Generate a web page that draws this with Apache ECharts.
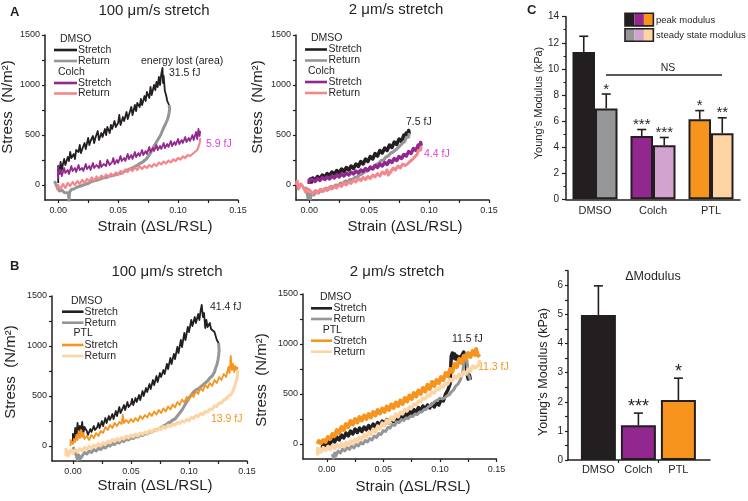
<!DOCTYPE html>
<html><head><meta charset="utf-8">
<script src="https://cdn.jsdelivr.net/npm/echarts@6/dist/echarts.min.js"></script>
<style>html,body{margin:0;padding:0;background:#fff}#c{width:748px;height:501px}</style>
</head><body><div id="c"></div>
<script>
const FONT = '"Liberation Sans", Arial, Helvetica, sans-serif';
const INK = '#231f20';

// ---------- axis tick/label values ----------
const strainLabels = [0, 0.05, 0.10, 0.15];
const strainTicks = [0, 0.025, 0.05, 0.075, 0.10, 0.125, 0.15];
const stressLabels = [0, 500, 1000, 1500];
const stressTicks = [0, 250, 500, 750, 1000, 1250, 1500];

// ---------- Panel A, 100 um/s ----------
const aL_dmsoStretch = [[0,20],[0,190],[0.001,120],[0.002,230],[0.003,150],[0.004,210],[0.005,260],[0.006,200],[0.008,280],[0.009,240],[0.010,330],[0.011,270],[0.013,310],[0.014,260],[0.015,350],[0.017,330],[0.018,400],[0.019,320],[0.021,390],[0.022,420],[0.023,360],[0.025,470],[0.026,400],[0.027,440],[0.029,490],[0.030,420],[0.031,470],[0.033,540],[0.034,450],[0.036,520],[0.037,480],[0.039,560],[0.040,500],[0.041,580],[0.043,520],[0.044,600],[0.045,560],[0.047,640],[0.048,580],[0.050,620],[0.051,700],[0.052,600],[0.054,680],[0.055,640],[0.057,730],[0.058,660],[0.059,700],[0.061,780],[0.062,700],[0.064,800],[0.065,740],[0.066,820],[0.068,780],[0.069,860],[0.070,800],[0.072,890],[0.073,840],[0.074,930],[0.076,870],[0.077,980],[0.078,900],[0.080,1000],[0.081,950],[0.082,1030],[0.083,980],[0.084,1080],[0.085,1000],[0.086,1110],[0.087,1170],[0.0875,1020],[0.088,1090],[0.089,940],[0.090,900],[0.091,840],[0.0925,800]];
const aL_dmsoReturn = [[0.0925,800],[0.093,760],[0.0925,720],[0.092,690],[0.091,650],[0.0895,610],[0.0885,590],[0.0875,560],[0.0865,540],[0.0855,500],[0.0845,490],[0.0835,460],[0.0825,455],[0.0815,420],[0.0805,400],[0.0795,380],[0.0785,350],[0.0775,340],[0.0765,310],[0.075,290],[0.0735,260],[0.072,250],[0.070,225],[0.068,215],[0.066,195],[0.064,185],[0.062,170],[0.060,160],[0.058,150],[0.055,135],[0.052,115],[0.049,110],[0.046,95],[0.043,90],[0.040,75],[0.037,70],[0.034,55],[0.031,45],[0.028,35],[0.025,15],[0.022,5],[0.019,-10],[0.016,-20],[0.013,-40],[0.011,-45],[0.0095,-70],[0.009,-160],[0.0085,-80],[0.007,-60],[0.005,-75],[0.003,-50],[0.001,-60],[-0.001,-20],[-0.002,10],[-0.003,40]];
const aL_colchStretch = [[0,60],[0,180],[0.001,110],[0.002,150],[0.003,90],[0.005,170],[0.006,120],[0.008,150],[0.009,110],[0.011,190],[0.012,140],[0.014,170],[0.015,130],[0.017,200],[0.018,150],[0.020,170],[0.021,140],[0.023,210],[0.024,160],[0.026,190],[0.027,150],[0.029,220],[0.030,170],[0.032,200],[0.034,170],[0.035,240],[0.036,180],[0.038,210],[0.040,190],[0.041,250],[0.043,200],[0.045,230],[0.046,270],[0.047,210],[0.049,250],[0.050,220],[0.052,290],[0.053,240],[0.055,270],[0.056,240],[0.058,310],[0.059,260],[0.061,300],[0.062,260],[0.064,330],[0.065,280],[0.067,320],[0.068,290],[0.070,350],[0.071,300],[0.073,340],[0.074,310],[0.076,380],[0.077,330],[0.079,370],[0.080,340],[0.082,400],[0.083,350],[0.085,390],[0.086,360],[0.088,420],[0.089,370],[0.091,410],[0.092,380],[0.094,440],[0.095,390],[0.097,430],[0.098,400],[0.100,460],[0.101,410],[0.103,450],[0.104,420],[0.106,480],[0.107,430],[0.109,470],[0.110,440],[0.112,500],[0.113,450],[0.115,530],[0.116,460],[0.117,560],[0.118,490],[0.1185,540]];
const aL_colchReturn = [[0.1185,470],[0.118,420],[0.117,380],[0.116,350],[0.114,330],[0.112,310],[0.110,290],[0.108,300],[0.106,270],[0.104,285],[0.102,255],[0.100,270],[0.098,240],[0.096,255],[0.094,225],[0.092,245],[0.090,215],[0.088,235],[0.086,205],[0.084,225],[0.082,190],[0.080,210],[0.078,180],[0.076,200],[0.074,170],[0.072,190],[0.070,160],[0.068,185],[0.066,150],[0.064,175],[0.062,140],[0.060,165],[0.058,130],[0.056,155],[0.054,115],[0.052,140],[0.050,100],[0.048,125],[0.046,90],[0.044,115],[0.042,80],[0.040,105],[0.038,70],[0.036,95],[0.034,60],[0.032,85],[0.030,45],[0.028,75],[0.026,35],[0.024,60],[0.022,20],[0.020,50],[0.018,10],[0.016,40],[0.014,0],[0.012,30],[0.010,-10],[0.008,20],[0.006,-30],[0.004,10],[0.002,-40],[0,0],[-0.001,-50]];

// ---------- Panel A, 2 um/s ----------
const aR_dmsoStretch = [[0,20],[0.001,60],[0.002,30],[0.003,70],[0.005,45],[0.007,85],[0.009,60],[0.011,100],[0.013,75],[0.015,115],[0.017,95],[0.019,130],[0.021,110],[0.023,145],[0.025,120],[0.027,160],[0.029,135],[0.031,175],[0.033,150],[0.035,190],[0.037,165],[0.039,210],[0.041,185],[0.043,235],[0.045,210],[0.047,260],[0.049,235],[0.051,285],[0.053,260],[0.055,315],[0.057,290],[0.059,345],[0.061,320],[0.063,370],[0.065,345],[0.067,400],[0.069,375],[0.071,430],[0.073,405],[0.075,460],[0.077,435],[0.079,500],[0.080,470],[0.081,520],[0.082,495],[0.083,545],[0.0835,510]];
const aR_dmsoReturn = [[0.0835,520],[0.083,480],[0.082,460],[0.081,475],[0.080,440],[0.079,455],[0.078,420],[0.077,430],[0.076,395],[0.075,405],[0.074,370],[0.073,380],[0.072,350],[0.071,355],[0.070,330],[0.068,320],[0.066,290],[0.064,280],[0.062,250],[0.060,245],[0.058,215],[0.056,205],[0.054,185],[0.052,170],[0.050,155],[0.048,140],[0.046,130],[0.044,110],[0.042,100],[0.040,80],[0.038,75],[0.036,55],[0.034,55],[0.032,35],[0.030,40],[0.028,15],[0.026,20],[0.024,-5],[0.022,0],[0.020,-25],[0.018,-15],[0.016,-45],[0.014,-30],[0.012,-60],[0.010,-45],[0.008,-80],[0.006,-60],[0.004,-100],[0.002,-80],[0.001,-140],[0,-90],[-0.001,-130],[-0.002,-60],[-0.003,-20]];
const aR_colchStretch = [[0,10],[0,50],[0.001,30],[0.003,55],[0.005,35],[0.007,65],[0.009,45],[0.011,75],[0.013,55],[0.015,80],[0.017,60],[0.019,90],[0.021,70],[0.023,100],[0.025,80],[0.027,110],[0.029,90],[0.031,120],[0.033,100],[0.035,130],[0.037,110],[0.039,140],[0.041,120],[0.043,150],[0.045,135],[0.047,165],[0.049,145],[0.051,180],[0.053,160],[0.055,195],[0.057,175],[0.059,210],[0.061,190],[0.063,225],[0.065,205],[0.067,245],[0.069,225],[0.071,265],[0.073,245],[0.075,285],[0.077,265],[0.079,305],[0.081,290],[0.083,335],[0.085,315],[0.087,365],[0.089,345],[0.091,400],[0.092,375],[0.093,425],[0.0935,395]];
const aR_colchReturn = [[0.0935,390],[0.093,350],[0.092,330],[0.091,345],[0.090,305],[0.089,315],[0.088,280],[0.087,295],[0.086,255],[0.085,275],[0.084,235],[0.083,250],[0.082,210],[0.081,230],[0.080,195],[0.078,210],[0.076,170],[0.074,190],[0.072,150],[0.070,170],[0.068,130],[0.066,100],[0.065,150],[0.063,110],[0.061,130],[0.059,90],[0.057,115],[0.055,80],[0.053,100],[0.051,65],[0.049,85],[0.047,55],[0.045,75],[0.043,45],[0.041,65],[0.039,30],[0.037,50],[0.035,15],[0.033,35],[0.031,0],[0.029,20],[0.027,-15],[0.025,5],[0.023,-30],[0.021,-10],[0.019,-40],[0.017,-20],[0.015,-55],[0.013,-35],[0.011,-65],[0.009,-45],[0.007,-80],[0.005,-55],[0.003,-90],[0.001,-60],[-0.001,-40],[-0.003,-70],[-0.005,-20],[-0.007,10],[-0.009,-40],[-0.010,40],[-0.011,0]];

// ---------- Panel B, 100 um/s ----------
const bL_dmsoStretch = [[0,20],[0,120],[0.001,60],[0.002,180],[0.003,90],[0.004,230],[0.005,120],[0.006,200],[0.007,140],[0.008,240],[0.009,130],[0.010,190],[0.012,150],[0.013,110],[0.015,170],[0.016,140],[0.018,200],[0.019,160],[0.021,190],[0.022,230],[0.023,180],[0.025,250],[0.026,200],[0.028,280],[0.029,230],[0.031,300],[0.032,260],[0.034,320],[0.035,270],[0.037,350],[0.038,300],[0.040,390],[0.041,330],[0.043,380],[0.044,410],[0.045,360],[0.047,440],[0.048,390],[0.050,420],[0.051,470],[0.052,410],[0.054,480],[0.055,440],[0.057,510],[0.058,460],[0.060,550],[0.061,500],[0.063,580],[0.064,540],[0.066,620],[0.067,570],[0.069,660],[0.070,610],[0.072,700],[0.073,640],[0.075,730],[0.076,690],[0.078,760],[0.079,720],[0.081,820],[0.082,770],[0.084,880],[0.085,820],[0.087,920],[0.088,870],[0.090,990],[0.091,930],[0.093,1060],[0.094,990],[0.096,1130],[0.097,1060],[0.099,1190],[0.100,1140],[0.102,1260],[0.103,1200],[0.105,1290],[0.106,1230],[0.108,1320],[0.109,1260],[0.110,1350],[0.111,1410],[0.112,1290],[0.113,1330],[0.114,1180],[0.115,1260],[0.116,1190],[0.118,1230],[0.119,1170],[0.120,1180],[0.122,1140],[0.123,1100],[0.124,1060],[0.125,1080],[0.1255,1030]];
const bL_dmsoReturn = [[0.1255,1030],[0.126,960],[0.1255,900],[0.125,860],[0.124,810],[0.123,780],[0.122,740],[0.121,720],[0.120,700],[0.118,680],[0.116,650],[0.114,630],[0.112,610],[0.110,590],[0.108,570],[0.106,560],[0.104,540],[0.102,510],[0.100,480],[0.098,440],[0.096,400],[0.094,360],[0.092,330],[0.090,300],[0.088,270],[0.086,260],[0.084,240],[0.082,230],[0.080,210],[0.078,200],[0.076,180],[0.074,175],[0.072,160],[0.070,155],[0.068,140],[0.066,140],[0.064,120],[0.062,125],[0.060,105],[0.058,110],[0.056,90],[0.054,95],[0.052,75],[0.050,85],[0.048,60],[0.046,70],[0.044,45],[0.042,55],[0.040,30],[0.038,40],[0.036,15],[0.034,25],[0.032,0],[0.030,10],[0.028,-20],[0.026,-5],[0.024,-35],[0.022,-20],[0.020,-50],[0.018,-35],[0.016,-65],[0.014,-50],[0.012,-80],[0.010,-65],[0.008,-100],[0.006,-130],[0.005,-90],[0.004,-140],[0.003,-100],[0.002,-60],[0.001,-30],[0,-10]];
const bL_ptlStretch = [[-0.002,0],[-0.002,60],[0,20],[0.001,70],[0.002,40],[0.003,110],[0.004,60],[0.005,150],[0.006,80],[0.007,160],[0.008,90],[0.009,130],[0.010,70],[0.012,100],[0.014,60],[0.016,110],[0.018,80],[0.020,130],[0.022,100],[0.024,150],[0.026,130],[0.028,190],[0.030,160],[0.032,210],[0.034,180],[0.036,230],[0.038,200],[0.040,240],[0.042,220],[0.043,310],[0.044,230],[0.046,260],[0.048,230],[0.050,270],[0.052,240],[0.054,280],[0.056,250],[0.058,300],[0.060,270],[0.062,310],[0.064,285],[0.066,330],[0.068,300],[0.070,345],[0.072,315],[0.074,360],[0.076,330],[0.078,375],[0.080,345],[0.082,395],[0.084,365],[0.086,415],[0.088,385],[0.090,440],[0.092,410],[0.094,465],[0.096,435],[0.098,490],[0.100,460],[0.102,520],[0.104,490],[0.106,550],[0.108,520],[0.110,580],[0.112,550],[0.114,610],[0.116,580],[0.118,630],[0.120,600],[0.122,660],[0.124,630],[0.126,690],[0.128,660],[0.130,720],[0.132,690],[0.134,790],[0.135,730],[0.136,900],[0.137,760],[0.138,820],[0.139,740],[0.140,800],[0.141,760],[0.142,790]];
const bL_ptlReturn = [[0.142,760],[0.1418,700],[0.141,660],[0.140,620],[0.139,590],[0.138,550],[0.137,560],[0.136,510],[0.134,500],[0.132,470],[0.130,460],[0.128,430],[0.126,430],[0.124,395],[0.122,400],[0.120,365],[0.118,370],[0.116,340],[0.114,345],[0.112,315],[0.110,325],[0.108,295],[0.106,305],[0.104,275],[0.102,285],[0.100,255],[0.098,265],[0.096,240],[0.094,250],[0.092,225],[0.090,235],[0.088,210],[0.086,220],[0.084,195],[0.082,210],[0.080,180],[0.078,195],[0.076,165],[0.074,180],[0.072,150],[0.070,165],[0.068,140],[0.066,155],[0.064,125],[0.062,140],[0.060,115],[0.058,130],[0.056,100],[0.054,120],[0.052,90],[0.050,110],[0.048,80],[0.046,100],[0.044,70],[0.042,85],[0.040,55],[0.038,75],[0.036,45],[0.034,65],[0.032,30],[0.030,50],[0.028,15],[0.026,35],[0.024,0],[0.022,25],[0.020,-10],[0.018,10],[0.016,-25],[0.014,0],[0.012,-35],[0.010,-15],[0.008,-50],[0.006,-25],[0.004,-60],[0.002,-35],[0,-75],[-0.002,-40],[-0.004,-100],[-0.005,-50],[-0.006,-90],[-0.006,-20]];

// ---------- Panel B, 2 um/s ----------
const bR_dmsoStretch = [[-0.004,-40],[-0.003,10],[-0.001,-20],[0.001,30],[0.003,0],[0.005,50],[0.007,20],[0.009,70],[0.011,40],[0.013,90],[0.015,60],[0.017,110],[0.019,80],[0.021,130],[0.023,100],[0.025,150],[0.027,115],[0.029,160],[0.031,125],[0.033,170],[0.035,140],[0.037,185],[0.039,150],[0.041,200],[0.043,165],[0.045,215],[0.047,180],[0.049,230],[0.051,195],[0.053,245],[0.055,210],[0.057,260],[0.059,225],[0.061,275],[0.063,240],[0.065,290],[0.067,255],[0.069,305],[0.071,275],[0.073,325],[0.075,295],[0.077,345],[0.079,315],[0.081,365],[0.083,335],[0.085,380],[0.087,350],[0.089,390],[0.091,360],[0.093,400],[0.095,370],[0.097,410],[0.099,390],[0.101,440],[0.103,430],[0.105,500],[0.107,540],[0.109,600],[0.110,880],[0.111,910],[0.112,860],[0.113,900],[0.114,850],[0.115,880],[0.116,840],[0.117,870],[0.118,830],[0.119,880],[0.120,870],[0.121,920],[0.122,940],[0.123,860],[0.1235,760],[0.124,700],[0.125,650],[0.126,690],[0.127,640]];
const bR_dmsoReturn = [[0.127,640],[0.125,700],[0.124,820],[0.123,900],[0.122,860],[0.121,800],[0.120,700],[0.118,640],[0.116,600],[0.114,580],[0.112,540],[0.110,520],[0.108,490],[0.106,480],[0.104,460],[0.102,450],[0.100,460],[0.098,440],[0.096,430],[0.094,410],[0.092,385],[0.090,375],[0.088,350],[0.086,345],[0.084,320],[0.082,320],[0.080,295],[0.078,300],[0.076,275],[0.074,280],[0.072,255],[0.070,260],[0.068,235],[0.066,245],[0.064,215],[0.062,220],[0.060,185],[0.058,195],[0.056,160],[0.054,165],[0.052,125],[0.050,135],[0.048,95],[0.046,105],[0.044,65],[0.042,80],[0.040,40],[0.038,55],[0.036,20],[0.034,35],[0.032,0],[0.030,15],[0.028,-20],[0.026,-5],[0.024,-40],[0.022,-20],[0.020,-55],[0.018,-35],[0.016,-70],[0.014,-50],[0.012,-90],[0.010,-70],[0.008,-120],[0.007,-90],[0.006,-140],[0.005,-100]];
const bR_ptlStretch = [[-0.008,0],[-0.007,30],[-0.005,10],[-0.003,40],[-0.001,20],[0.001,70],[0.003,50],[0.005,100],[0.007,80],[0.009,140],[0.011,110],[0.013,170],[0.015,140],[0.017,200],[0.019,170],[0.021,230],[0.023,195],[0.025,250],[0.027,215],[0.029,270],[0.031,235],[0.033,285],[0.035,250],[0.037,300],[0.039,265],[0.041,320],[0.043,285],[0.045,340],[0.047,305],[0.049,355],[0.051,320],[0.053,375],[0.055,340],[0.057,395],[0.059,360],[0.061,415],[0.063,380],[0.065,435],[0.067,400],[0.069,460],[0.071,425],[0.073,485],[0.075,450],[0.077,510],[0.079,475],[0.081,535],[0.083,500],[0.085,560],[0.087,525],[0.089,590],[0.091,550],[0.093,620],[0.095,580],[0.097,640],[0.099,610],[0.101,670],[0.103,640],[0.105,710],[0.107,680],[0.109,750],[0.111,720],[0.113,800],[0.115,770],[0.117,850],[0.119,810],[0.121,880],[0.123,850],[0.125,910],[0.127,870],[0.129,930],[0.131,890],[0.132,950],[0.133,900],[0.134,920],[0.135,870]];
const bR_ptlReturn = [[0.135,840],[0.1345,790],[0.133,800],[0.131,760],[0.129,780],[0.127,730],[0.125,750],[0.123,700],[0.121,720],[0.119,680],[0.117,700],[0.115,660],[0.113,680],[0.111,630],[0.109,650],[0.107,600],[0.105,610],[0.103,570],[0.101,580],[0.099,540],[0.097,550],[0.095,510],[0.093,520],[0.091,480],[0.089,490],[0.087,450],[0.085,460],[0.083,420],[0.081,430],[0.079,390],[0.077,400],[0.075,360],[0.073,370],[0.071,330],[0.069,345],[0.067,300],[0.065,320],[0.063,270],[0.061,300],[0.059,240],[0.057,270],[0.055,210],[0.053,240],[0.051,180],[0.049,210],[0.047,150],[0.045,180],[0.043,120],[0.041,150],[0.039,95],[0.037,120],[0.035,70],[0.033,95],[0.031,45],[0.029,70],[0.027,25],[0.025,50],[0.023,5],[0.021,30],[0.019,-10],[0.017,15],[0.015,-25],[0.013,5],[0.011,-35],[0.009,-5],[0.007,-45],[0.005,-15],[0.003,-55],[0.001,-25],[-0.001,-65],[-0.003,-35],[-0.005,-80],[-0.007,-50],[-0.008,-100],[-0.008,-30]];

// ---------- Panel C ----------
const modCategories = ['DMSO', 'Colch', 'PTL'];
const peakModulus = [11.3, 4.85, 6.13];
const peakErr = [1.2, 0.5, 0.67];
const peakSig = ['', '***', '*'];
const steadyModulus = [6.97, 4.14, 5.06];
const steadyErr = [1.1, 0.6, 1.19];
const steadySig = ['*', '***', '**'];

// ---------- Delta modulus ----------
const deltaModulus = [4.98, 1.19, 2.06];
const deltaErr = [1.0, 0.42, 0.75];
const deltaSig = ['', '***', '*'];
const deltaLabels = [0, 1, 2, 3, 4, 5, 6];
const deltaTicks = [0, 0.5, 1, 1.5, 2, 2.5, 3, 3.5, 4, 4.5, 5, 5.5, 6, 6.5];

// ---------- colours ----------
const C_BLACK = '#231f20', C_GRAY = '#959698', C_PURPLE = '#92278f', C_PINK = '#f4878c',
      C_ORANGE = '#f7941d', C_BEIGE = '#fdd4a3', C_LILAC = '#d2a3cf', C_MAGENTA = '#dd3fdd';
const peakColors = [C_BLACK, C_PURPLE, C_ORANGE];
const steadyColors = [C_GRAY, C_LILAC, C_BEIGE];

// ---------- builders ----------
function strainAxis(gi, min) {
  return { type: 'value', gridIndex: gi, min: min, max: 0.15,
    axisLine: { show: true, onZero: false, lineStyle: { color: INK, width: 1.5 } },
    axisTick: { show: true, inside: false, length: 3, lineStyle: { color: INK, width: 1.2 }, customValues: strainTicks },
    axisLabel: { customValues: strainLabels, formatter: v => Number(v).toFixed(2), fontSize: 9, color: INK, margin: 6, fontFamily: FONT },
    splitLine: { show: false } };
}
function stressAxis(gi) {
  return { type: 'value', gridIndex: gi, min: -150, max: 1500,
    axisLine: { show: true, onZero: false, lineStyle: { color: INK, width: 1.5 } },
    axisTick: { show: true, inside: false, length: 3, lineStyle: { color: INK, width: 1.2 }, customValues: stressTicks },
    axisLabel: { customValues: stressLabels, formatter: v => String(Math.round(v)), fontSize: 9, color: INK, margin: 5, fontFamily: FONT },
    splitLine: { show: false } };
}
function trace(name, data, color, gi, w) {
  return { type: 'line', name: name, data: data, xAxisIndex: gi, yAxisIndex: gi,
    showSymbol: false, symbol: 'none', animation: false, clip: true, silent: true,
    lineStyle: { color: color, width: w || 1.8, join: 'round' } };
}
function errRender(offset, sig, fs) {
  return function (params, api) {
    const x0 = api.value(0), v = api.value(1), e = api.value(2);
    const base = api.coord([x0, v]), top = api.coord([x0, v + e]);
    const x = base[0] + offset;
    return { type: 'group', children: [
      { type: 'line', shape: { x1: x, y1: base[1], x2: x, y2: top[1] }, style: { stroke: INK, lineWidth: 1.6 } },
      { type: 'line', shape: { x1: x - 4.5, y1: top[1], x2: x + 4.5, y2: top[1] }, style: { stroke: INK, lineWidth: 1.6 } },
      { type: 'text', x: x, y: top[1] + 3, style: { text: sig[params.dataIndex], fill: INK, fontSize: fs, fontFamily: FONT, align: 'center', verticalAlign: 'bottom' } }
    ] };
  };
}
function txt(x, y, text, size, opt) {
  opt = opt || {};
  const el = { type: 'text', x: x, y: y, silent: true,
    style: { text: text, fill: opt.color || INK, fontSize: size, fontFamily: FONT,
      fontWeight: opt.bold ? 'bold' : 'normal', align: opt.align || 'left', verticalAlign: 'middle' } };
  if (opt.rot) el.rotation = opt.rot;
  return el;
}
function seg(x1, y1, x2, y2, color, w) {
  return { type: 'line', silent: true, shape: { x1: x1, y1: y1, x2: x2, y2: y2 }, style: { stroke: color, lineWidth: w } };
}
function legendBlock(hx, hy, head1, head2, lx1, lx2, tx, ys, colors) {
  const g = [];
  g.push(txt(hx[0], hy[0], head1, 10.5));
  g.push(txt(hx[1], hy[1], head2, 10.5));
  const labels = ['Stretch', 'Return', 'Stretch', 'Return'];
  for (let i = 0; i < 4; i++) {
    g.push(seg(lx1, ys[i], lx2, ys[i], colors[i], 2.6));
    g.push(txt(tx, ys[i], labels[i], 10.5));
  }
  return g;
}

const graphics = [].concat(
  [txt(10, 12, 'A', 13, { bold: true }), txt(10, 266, 'B', 13, { bold: true }), txt(527, 10, 'C', 13, { bold: true }),
   txt(154, 11, '100 μm/s stretch', 15, { align: 'center' }),
   txt(396, 10, '2 μm/s stretch', 15, { align: 'center' }),
   txt(167, 272, '100 μm/s stretch', 15, { align: 'center' }),
   txt(397, 272, '2 μm/s stretch', 15, { align: 'center' }),
   txt(155, 227, 'Strain (ΔSL/RSL)', 15, { align: 'center' }),
   txt(405, 227, 'Strain (ΔSL/RSL)', 15, { align: 'center' }),
   txt(155, 486, 'Strain (ΔSL/RSL)', 15, { align: 'center' }),
   txt(413, 487, 'Strain (ΔSL/RSL)', 15, { align: 'center' }),
   txt(8, 107, 'Stress  (N/m²)', 15, { align: 'center', rot: Math.PI / 2 }),
   txt(258, 107, 'Stress  (N/m²)', 15, { align: 'center', rot: Math.PI / 2 }),
   txt(11, 372, 'Stress  (N/m²)', 15, { align: 'center', rot: Math.PI / 2 }),
   txt(262, 380, 'Stress  (N/m²)', 15, { align: 'center', rot: Math.PI / 2 }),
   txt(141, 61, 'energy lost (area)', 10.5),
   txt(169, 73, '31.5 fJ', 10.5),
   txt(206, 144, '5.9 fJ', 10.5, { color: C_MAGENTA }),
   txt(406, 122, '7.5 fJ', 10.5),
   txt(424, 154, '4.4 fJ', 10.5, { color: C_MAGENTA }),
   txt(210, 307, '41.4 fJ', 10.5),
   txt(211, 419, '13.9 fJ', 10.5, { color: C_ORANGE }),
   txt(452, 339, '11.5 fJ', 10.5),
   txt(478, 367, '11.3 fJ', 10.5, { color: C_ORANGE }),
   // panel C
   txt(539, 103, 'Young’s Modulus (kPa)', 11, { align: 'center', rot: Math.PI / 2 }),
   txt(668, 68, 'NS', 10.5, { align: 'center' }),
   seg(606, 75, 722, 75, INK, 1.5),
   txt(656, 20, 'peak modulus', 9.5),
   txt(656, 35, 'steady state modulus', 9.5),
   // delta panel
   txt(653, 277, 'ΔModulus', 12.5, { align: 'center' }),
   txt(544, 372, 'Young’s Modulus (kPa)', 12.5, { align: 'center', rot: Math.PI / 2 })
  ],
  legendBlock([60, 58], [39, 72], 'DMSO', 'Colch', 54, 77, 78, [50, 61, 83, 93.5], [C_BLACK, C_GRAY, C_PURPLE, C_PINK]),
  legendBlock([311, 308], [38.5, 71], 'DMSO', 'Colch', 305, 327, 328.5, [49.5, 60.5, 82, 93], [C_BLACK, C_GRAY, C_PURPLE, C_PINK]),
  legendBlock([71, 73.5], [301, 333.3], 'DMSO', 'PTL', 62, 83.5, 84.5, [311.7, 322.7, 345, 356], [C_BLACK, C_GRAY, C_ORANGE, C_BEIGE]),
  legendBlock([320, 322.7], [296.7, 330], 'DMSO', 'PTL', 311, 332, 333.5, [308.3, 319, 340.7, 351.7], [C_BLACK, C_GRAY, C_ORANGE, C_BEIGE])
);
// panel C legend swatches
[peakColors, steadyColors].forEach(function (cols, r) {
  const y0 = r === 0 ? 13.3 : 28.7;
  cols.forEach(function (c, i) {
    graphics.push({ type: 'rect', silent: true, shape: { x: 625 + i * 9.45, y: y0, width: 9.45, height: 12.6 }, style: { fill: c } });
  });
  graphics.push({ type: 'rect', silent: true, shape: { x: 625, y: y0, width: 28.35, height: 12.6 }, style: { fill: 'none', stroke: INK, lineWidth: 1.6 } });
});

const option = {
  animation: false,
  backgroundColor: '#ffffff',
  textStyle: { fontFamily: FONT },
  grid: [
    { left: 45, top: 35, width: 193, height: 165, outerBoundsMode: 'none' },
    { left: 296, top: 35, width: 193, height: 165, outerBoundsMode: 'none' },
    { left: 52, top: 296, width: 195, height: 165, outerBoundsMode: 'none' },
    { left: 303, top: 294, width: 193.5, height: 165, outerBoundsMode: 'none' },
    { left: 566, top: 16.7, width: 174, height: 182.6, outerBoundsMode: 'none' },
    { left: 568, top: 270.7, width: 142, height: 189.3, outerBoundsMode: 'none' }
  ],
  xAxis: [
    strainAxis(0, -0.011), strainAxis(1, -0.011), strainAxis(2, -0.018), strainAxis(3, -0.021),
    { type: 'category', gridIndex: 4, data: modCategories,
      axisLine: { show: true, lineStyle: { color: INK, width: 1.5 } }, axisTick: { show: false },
      axisLabel: { fontSize: 11, color: INK, margin: 6, fontFamily: FONT } },
    { type: 'value', gridIndex: 5, min: -0.76, max: 2.79,
      axisLine: { show: true, onZero: false, lineStyle: { color: INK, width: 1.5 } },
      axisTick: { show: true, length: 3, lineStyle: { color: INK, width: 1.2 }, customValues: [0.5, 1.5] },
      axisLabel: { customValues: [0, 1, 2], formatter: v => modCategories[Math.round(v)], fontSize: 11, color: INK, margin: 4, fontFamily: FONT },
      splitLine: { show: false } }
  ],
  yAxis: [
    stressAxis(0), stressAxis(1), stressAxis(2), stressAxis(3),
    { type: 'value', gridIndex: 4, min: 0, max: 14, interval: 2,
      axisLine: { show: true, onZero: false, lineStyle: { color: INK, width: 1.5 } },
      axisTick: { show: true, length: 4, lineStyle: { color: INK, width: 1.2 } },
      minorTick: { show: true, splitNumber: 2, length: 2.5, lineStyle: { color: INK, width: 1 } },
      axisLabel: { fontSize: 10, color: INK, margin: 7, fontFamily: FONT },
      splitLine: { show: false } },
    { type: 'value', gridIndex: 5, min: 0, max: 6.5,
      axisLine: { show: true, onZero: false, lineStyle: { color: INK, width: 1.5 } },
      axisTick: { show: true, length: 3, lineStyle: { color: INK, width: 1.2 }, customValues: deltaTicks },
      axisLabel: { customValues: deltaLabels, fontSize: 10, color: INK, margin: 5, fontFamily: FONT },
      splitLine: { show: false } }
  ],
  series: [
    trace('A100 DMSO Stretch', aL_dmsoStretch, C_BLACK, 0, 1.8),
    trace('A100 DMSO Return', aL_dmsoReturn, C_GRAY, 0, 3),
    trace('A100 Colch Stretch', aL_colchStretch, C_PURPLE, 0, 1.8),
    trace('A100 Colch Return', aL_colchReturn, C_PINK, 0, 2.2),
    trace('A2 DMSO Stretch', aR_dmsoStretch, C_BLACK, 1, 3.5),
    trace('A2 DMSO Return', aR_dmsoReturn, C_GRAY, 1, 3),
    trace('A2 Colch Stretch', aR_colchStretch, C_PURPLE, 1, 3.5),
    trace('A2 Colch Return', aR_colchReturn, C_PINK, 1, 3),
    trace('B100 DMSO Stretch', bL_dmsoStretch, C_BLACK, 2, 1.8),
    trace('B100 DMSO Return', bL_dmsoReturn, C_GRAY, 2, 3),
    trace('B100 PTL Stretch', bL_ptlStretch, C_ORANGE, 2, 1.8),
    trace('B100 PTL Return', bL_ptlReturn, C_BEIGE, 2, 3),
    trace('B2 DMSO Stretch', bR_dmsoStretch, C_BLACK, 3, 3.5),
    trace('B2 DMSO Return', bR_dmsoReturn, C_GRAY, 3, 3),
    trace('B2 PTL Stretch', bR_ptlStretch, C_ORANGE, 3, 4),
    trace('B2 PTL Return', bR_ptlReturn, C_BEIGE, 3, 3.5),
    { type: 'bar', name: 'peak modulus', xAxisIndex: 4, yAxisIndex: 4, barWidth: 22.5, barGap: '0%',
      data: peakModulus.map((v, i) => ({ value: v, itemStyle: { color: peakColors[i] } })),
      itemStyle: { borderColor: INK, borderWidth: 2 }, silent: true },
    { type: 'bar', name: 'steady state modulus', xAxisIndex: 4, yAxisIndex: 4, barWidth: 22.5, barGap: '0%',
      data: steadyModulus.map((v, i) => ({ value: v, itemStyle: { color: steadyColors[i] } })),
      itemStyle: { borderColor: INK, borderWidth: 2 }, silent: true },
    { type: 'custom', name: 'peak err', xAxisIndex: 4, yAxisIndex: 4, silent: true, z: 5,
      renderItem: errRender(-11.25, peakSig, 15), data: peakModulus.map((v, i) => [i, v, peakErr[i]]) },
    { type: 'custom', name: 'steady err', xAxisIndex: 4, yAxisIndex: 4, silent: true, z: 5,
      renderItem: errRender(11.25, steadySig, 15), data: steadyModulus.map((v, i) => [i, v, steadyErr[i]]) },
    { type: 'bar', name: 'delta modulus', xAxisIndex: 5, yAxisIndex: 5, barWidth: 35,
      data: deltaModulus.map((v, i) => ({ value: [i, v], itemStyle: { color: peakColors[i] } })),
      itemStyle: { borderColor: INK, borderWidth: 2 }, silent: true },
    { type: 'custom', name: 'delta err', xAxisIndex: 5, yAxisIndex: 5, silent: true, z: 5,
      renderItem: errRender(0, deltaSig, 18), data: deltaModulus.map((v, i) => [i, v, deltaErr[i]]) }
  ],
  graphic: graphics
};
const chart = echarts.init(document.getElementById('c'), null, { renderer: 'canvas', width: 748, height: 501 });
chart.setOption(option);
</script>
</body></html>
